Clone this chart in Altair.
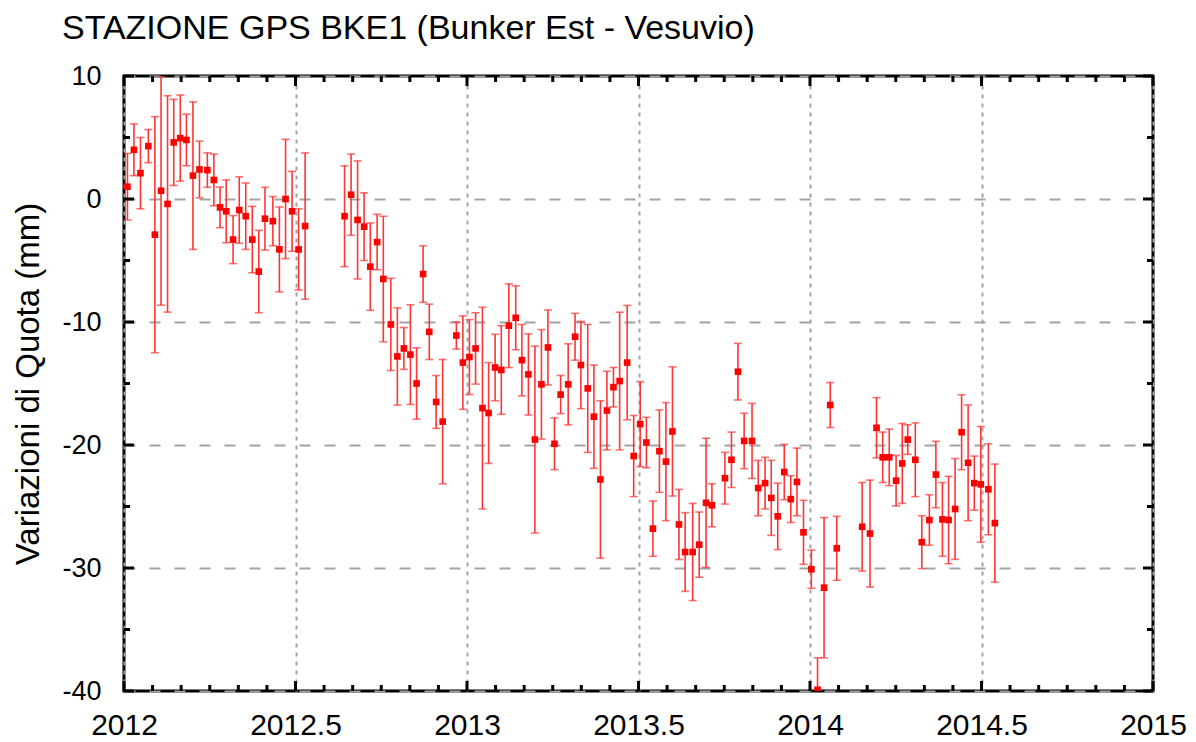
import altair as alt
import pandas as pd

title_text = "STAZIONE GPS BKE1 (Bunker Est - Vesuvio)"
y_title = "Variazioni di Quota (mm)"

years = [2012.010, 2012.029, 2012.048, 2012.071, 2012.090, 2012.108, 2012.127, 2012.145, 2012.164, 2012.182,
         2012.201, 2012.220, 2012.243, 2012.262, 2012.280, 2012.298, 2012.318, 2012.336, 2012.355, 2012.374,
         2012.393, 2012.411, 2012.434, 2012.453, 2012.471, 2012.490, 2012.509, 2012.528,
         2012.643, 2012.662, 2012.681, 2012.700, 2012.718, 2012.738, 2012.756, 2012.778, 2012.797, 2012.816,
         2012.835, 2012.853, 2012.872, 2012.890, 2012.910, 2012.929,
         2012.969, 2012.988, 2013.007, 2013.025, 2013.045, 2013.063, 2013.082, 2013.100, 2013.122, 2013.142,
         2013.160, 2013.179, 2013.198, 2013.217, 2013.236, 2013.255, 2013.273, 2013.295, 2013.315, 2013.332,
         2013.352, 2013.370, 2013.389, 2013.408, 2013.427, 2013.445, 2013.467, 2013.486, 2013.505, 2013.523,
         2013.542, 2013.561, 2013.580, 2013.599, 2013.618, 2013.636, 2013.658, 2013.677, 2013.697, 2013.714,
         2013.752, 2013.771, 2013.790, 2013.808, 2013.831, 2013.849, 2013.869, 2013.887, 2013.906, 2013.925,
         2013.944, 2013.962, 2013.981, 2014.004, 2014.022, 2014.041, 2014.059, 2014.078,
         2014.152, 2014.175, 2014.194, 2014.212, 2014.231, 2014.251, 2014.269, 2014.285, 2014.307, 2014.326,
         2014.348, 2014.367, 2014.386, 2014.404, 2014.423, 2014.442, 2014.461, 2014.479, 2014.498, 2014.520,
         2014.539]

values = [1.0, 4.0, 2.1, 4.3, -2.9, 0.67, -0.4, 4.6, 4.95, 4.8,
          1.9, 2.4, 2.35, 1.55, -0.68, -1.0, -3.3, -0.9, -1.4, -3.3,
          -5.9, -1.6, -1.8, -4.1, 0.0, -1.0, -4.1, -2.2,
          -1.4, 0.35, -1.7, -2.25, -5.5, -3.5, -6.5, -10.2, -12.8, -12.15,
          -12.65, -15.0, -6.1, -10.8, -16.5, -18.1,
          -11.1, -13.3, -12.85, -12.15, -17.0, -17.4, -13.7, -13.9, -10.3, -9.66,
          -13.1, -14.26, -19.56, -15.07, -12.07, -19.9, -15.9, -15.07, -11.2, -13.5,
          -15.4, -17.7, -22.8, -17.2, -15.3, -14.8, -13.3, -20.9, -18.3, -19.8,
          -26.8, -20.5, -21.35, -18.9, -26.46, -28.7, -28.7, -28.1, -24.7, -24.9,
          -22.7, -21.2, -14.04, -19.67, -19.67, -23.5, -23.1, -24.3, -25.8, -22.2,
          -24.4, -23.0, -27.1, -30.1, -39.9, -31.6, -16.75, -28.4,
          -26.65, -27.2, -18.6, -21.0, -21.0, -22.9, -21.5, -19.56, -21.2, -27.9,
          -26.1, -22.4, -26.05, -26.1, -25.2, -18.96, -21.45, -23.1, -23.2, -23.6,
          -26.35]

errors = [2.7, 2.1, 2.9, 1.35, 9.6, 9.3, 8.8, 3.5, 3.5, 2.1,
          6.0, 2.3, 1.4, 2.1, 1.65, 2.55, 1.95, 2.7, 2.7, 2.7,
          3.35, 2.55, 2.0, 3.45, 4.85, 3.25, 3.3, 5.95,
          4.1, 3.3, 4.8, 2.75, 3.55, 2.25, 5.1, 3.75, 3.95, 1.7,
          4.05, 2.9, 2.3, 2.25, 2.15, 5.05,
          1.1, 3.8, 3.05, 2.9, 8.2, 4.1, 2.7, 3.6, 3.4, 2.6,
          2.9, 3.3, 7.6, 4.45, 3.05, 2.1, 1.55, 3.3, 1.9, 3.55,
          5.2, 4.2, 6.4, 3.2, 1.6, 5.6, 4.65, 3.3, 3.45, 2.05,
          2.25, 3.35, 4.8, 5.25, 2.85, 3.2, 3.95, 2.65, 5.25, 1.75,
          2.1, 2.25, 2.3, 2.25, 3.05, 2.25, 2.1, 3.05, 2.7, 2.25,
          1.9, 2.75, 2.6, 1.55, 2.6, 5.7, 1.83, 2.6,
          3.6, 4.35, 2.45, 2.05, 2.3, 2.05, 3.25, 1.2, 3.0, 2.15,
          2.05, 2.7, 3.0, 3.55, 4.1, 3.05, 4.7, 2.2, 4.7, 3.7,
          4.8]

x_major = [2012, 2012.5, 2013, 2013.5, 2014, 2014.5, 2015]
x_minor = [round(2012 + k / 12, 5) for k in range(37) if k % 6 != 0]
y_major = [10, 0, -10, -20, -30, -40]
y_minor = [5, -5, -15, -25, -35]

W, H = 1029, 615
FONT = "Liberation Sans"
RED = "#ff0000"
BAR = "#ff3535"
GRID = "#a3a3a3"

df = pd.DataFrame({"year": years, "value": values, "err": errors})
xs = alt.Scale(domain=[2012, 2015], nice=False, zero=False)
ys = alt.Scale(domain=[-40, 10], nice=False, zero=False)

x_axis = alt.Axis(values=x_major, labelExpr="'' + datum.value", title=None, domain=False, ticks=False,
                  labelPadding=19, labelFontSize=30, labelFont=FONT, labelColor="black",
                  grid=True, gridColor=GRID, gridDash=[4, 5], gridWidth=2, labelFlush=False)
y_axis = alt.Axis(values=y_major, labelExpr="'' + datum.value", title=y_title, domain=False, ticks=False,
                  labelPadding=23, labelFontSize=27, labelFont=FONT, labelColor="black",
                  titleFontSize=33, titleFont=FONT, titleFontWeight="normal", titleColor="black",
                  titleX=-96, titleY=H / 2, titleBaseline="middle", titleAngle=-90,
                  grid=True, gridColor=GRID, gridDash=[11, 14], gridWidth=2, labelFlush=False)


def X(field):
    return alt.X(field, scale=xs, axis=x_axis)


def Y(field):
    return alt.Y(field, scale=ys, axis=y_axis)


base = alt.Chart(df).transform_calculate(
    lo="datum.value - datum.err", hi="datum.value + datum.err"
)

bars = base.mark_rule(color=BAR, strokeWidth=1.6, clip=True).encode(
    x=X("year:Q"), y=Y("lo:Q"), y2="hi:Q")
cap_hi = base.mark_tick(color=BAR, orient="horizontal", size=8, thickness=1.6, clip=True).encode(
    x=X("year:Q"), y=Y("hi:Q"))
cap_lo = base.mark_tick(color=BAR, orient="horizontal", size=8, thickness=1.6, clip=True).encode(
    x=X("year:Q"), y=Y("lo:Q"))
points = base.mark_square(size=44, color=RED, opacity=1, clip=True).encode(
    x=X("year:Q"), y=Y("value:Q"))


def xticks(vals, length, top):
    d = pd.DataFrame({"t": vals})
    y0, y1 = (0, length) if top else (H, H - length)
    return alt.Chart(d).mark_rule(color="black", strokeWidth=3).encode(
        x=X("t:Q"), y=alt.value(y0), y2=alt.value(y1))


def yticks(vals, length, right):
    d = pd.DataFrame({"t": vals})
    x0, x1 = (W, W - length) if right else (0, length)
    return alt.Chart(d).mark_rule(color="black", strokeWidth=3).encode(
        y=Y("t:Q"), x=alt.value(x0), x2=alt.value(x1))


tick_layers = [
    xticks(x_major, 10, False), xticks(x_minor, 6, False),
    xticks(x_major, 10, True), xticks(x_minor, 6, True),
    yticks(y_major, 10, False), yticks(y_minor, 6, False),
    yticks(y_major, 10, True), yticks(y_minor, 6, True),
]

title = alt.Chart(pd.DataFrame({"t": [title_text]})).mark_text(
    align="left", baseline="alphabetic", fontSize=34, font=FONT, color="black"
).encode(x=alt.value(-62), y=alt.value(-37), text="t:N")

chart = alt.layer(bars, cap_hi, cap_lo, points, *tick_layers, title).properties(
    width=W, height=H,
    background="white",
    autosize=alt.AutoSizeParams(type="none"),
    padding={"left": 116, "top": 68, "right": 34, "bottom": 50},
).configure_view(stroke="black", strokeWidth=3)

chart.save("out.html", embed_options={"renderer": "svg", "actions": False})
